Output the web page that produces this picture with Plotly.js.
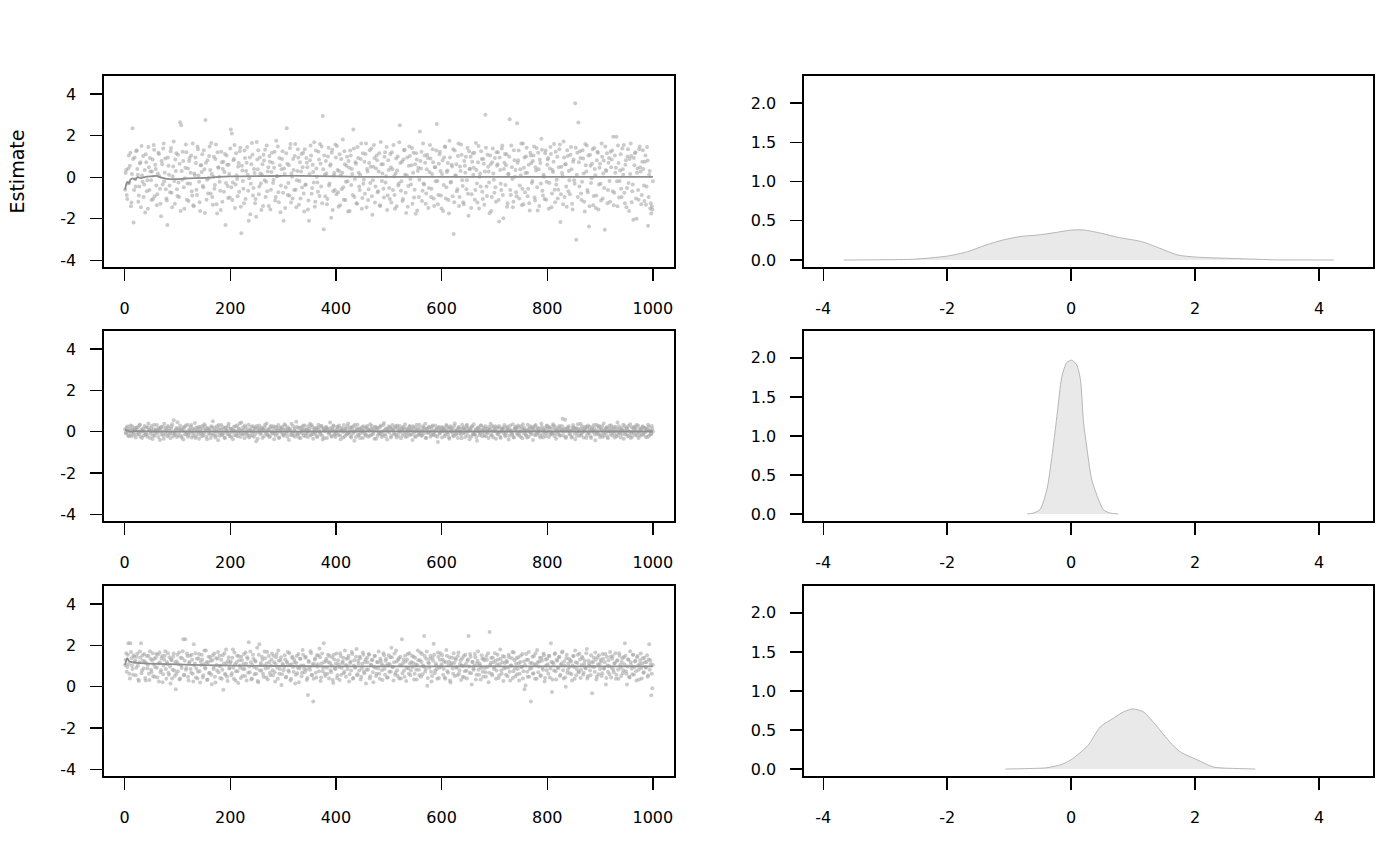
<!DOCTYPE html>
<html>
<head>
<meta charset="utf-8">
<script src="https://cdn.plot.ly/plotly-3.0.1.min.js"></script>
<style>html,body{margin:0;padding:0;background:#fff;}#chart{width:1400px;height:866px;}</style>
</head>
<body>
<div id="chart"></div>
<script>
// ---- Trace values: odd iterations (1,3,...,999) and even iterations (2,4,...,1000) ----
const chainA_odd = [
-0.60,0.35,-1.05,0.42,-0.28,1.18,-1.22,2.35,-2.18,0.95,
-0.45,1.30,0.12,-0.88,0.66,-1.45,0.08,1.02,-0.35,-1.70,
0.72,-0.15,1.45,-0.62,0.28,-1.10,0.85,1.55,-0.92,0.40,
-1.35,0.18,1.12,-0.55,-1.88,0.62,1.38,-0.20,0.90,-1.02,
-2.30,0.55,-0.40,1.25,-0.75,0.05,1.72,-1.28,0.30,-0.58,
1.08,-0.95,2.65,2.50,-0.12,0.78,-1.52,0.45,1.20,-0.30,
-1.15,0.92,0.22,-0.68,1.62,-1.40,0.10,0.68,-0.85,1.35,
-0.22,-1.62,0.58,1.10,-0.48,0.38,2.75,-1.08,0.82,-0.05,
1.48,-0.78,0.15,-1.32,0.98,-0.38,1.58,-1.75,0.48,0.02,
-0.65,1.22,-1.18,0.75,0.25,-2.30,1.05,-0.42,0.60,-0.98,
2.30,2.10,-0.25,0.88,-1.48,1.15,-0.08,0.52,-0.70,1.42,
-2.70,0.32,-0.55,1.28,-1.05,0.70,0.12,-2.10,0.95,-0.32,
1.65,-0.88,0.40,-1.25,-1.90,0.85,1.30,-0.45,0.18,-1.58,
0.62,1.08,-0.15,-0.95,1.52,0.28,-1.38,0.75,-0.60,1.18,
-0.28,0.45,-1.12,1.75,0.05,-0.72,0.92,-1.68,0.38,1.25,
-2.10,0.15,-0.48,2.35,-0.85,0.58,1.40,-1.22,0.02,0.88,
-0.62,1.60,-1.45,0.30,0.95,-0.18,-1.02,1.12,0.48,-0.78,
1.35,-0.35,0.70,-1.55,-2.10,0.82,1.05,-0.52,0.25,1.68,
-1.18,0.42,-0.25,1.22,-0.90,0.65,1.48,2.95,-2.50,0.12,
0.78,-1.30,1.00,-0.40,0.55,-1.95,1.32,-0.68,0.20,1.58,
-0.82,0.35,-1.42,1.10,0.08,-0.58,1.82,-1.08,0.62,-0.22,
0.98,-1.65,0.45,1.28,-0.38,0.15,2.30,-0.95,0.72,-1.25,
1.45,0.22,-0.62,0.88,-1.52,1.15,-0.12,-0.80,1.62,0.40,
-1.10,0.68,-0.28,1.38,-1.80,0.50,0.92,-0.45,1.05,-0.72,
0.28,-1.35,1.70,-0.18,0.62,-0.98,1.20,0.05,-1.58,0.82,
-0.52,1.12,-1.22,0.38,1.55,-0.85,0.18,-1.40,1.00,-0.30,
2.50,-0.65,0.75,-1.05,1.30,0.12,-1.72,0.95,-0.42,1.48,
-0.08,0.58,-1.28,1.18,-0.60,-1.76,0.85,0.30,-0.95,2.20,
0.42,-1.15,1.62,-0.35,0.70,-0.78,1.08,-1.48,0.25,0.90,
-0.55,1.35,-1.02,0.48,-0.20,2.56,-1.30,0.65,1.22,-0.88,
0.15,-1.62,0.95,1.45,-0.48,0.32,-1.10,1.75,-0.25,0.60,
-0.92,-2.73,1.28,0.08,-0.68,1.02,-1.38,0.52,1.58,-0.15,
-1.20,0.78,0.22,-0.58,1.40,-1.85,0.38,0.98,-0.82,1.15,
0.45,-1.08,1.65,-0.30,0.72,-1.50,0.18,1.25,-0.70,0.88,
-1.32,3.00,-0.45,1.08,0.28,-1.73,0.62,-0.95,1.38,-0.12,
0.92,-1.18,0.55,1.20,-2.13,0.35,-0.62,1.52,-1.97,0.70,
-0.38,1.10,-1.25,0.15,2.79,-0.85,0.48,-1.45,1.30,0.02,
-0.72,2.60,0.82,-1.02,0.38,1.62,-0.55,-1.30,0.95,0.20,
1.42,-0.92,0.60,-1.60,1.05,-0.28,0.78,1.48,-1.12,0.32,
-0.48,1.18,-1.38,0.68,1.85,-0.65,0.12,-1.05,1.28,-0.22,
0.85,-1.52,0.42,1.12,-0.78,0.25,1.60,-1.20,-0.35,0.98,
-0.60,1.35,-2.15,0.50,0.05,1.72,-0.95,0.62,-1.42,1.02,
0.30,-0.82,1.45,-1.28,0.75,-0.15,3.56,-3.01,1.18,2.63,
-0.45,0.92,-1.10,1.30,0.18,-1.65,0.58,1.52,-0.72,-2.37,
1.08,-0.28,0.65,-1.35,1.40,0.10,-0.88,1.22,-1.55,0.45,
-0.32,1.62,-1.02,0.80,-2.53,0.35,1.15,-0.62,0.92,-1.18,
0.48,1.28,1.95,-0.75,0.22,1.95,-1.40,0.68,-0.18,1.10,
-0.95,0.38,1.55,-1.25,0.82,-0.52,1.35,-1.62,0.15,1.02,
-0.68,-2.05,0.58,1.20,-2.00,0.42,-1.08,1.48,0.28,-0.85,
1.30,-0.40,0.75,-1.32,1.45,-2.34,0.12,-1.50,-1.75,-1.55
];
const chainA_even = [
0.20,-0.85,-0.30,1.05,0.55,-1.40,0.15,0.88,-0.62,-0.10,
1.25,0.40,-1.18,-0.45,0.72,1.50,-0.22,-0.95,0.35,1.10,
-0.68,-1.52,0.48,0.92,-0.15,0.28,-1.05,1.32,0.60,-0.40,
-0.82,1.18,0.05,-1.28,0.78,-0.35,1.62,0.22,-0.58,-1.12,
0.95,0.12,-0.72,1.40,-1.45,0.52,-0.18,0.85,1.15,-0.90,
-0.25,0.65,-1.62,0.30,1.22,-0.48,-0.05,1.58,-1.08,0.42,
0.78,-0.32,1.05,-0.88,-1.35,0.18,0.95,-0.60,1.48,0.08,
-1.20,0.58,0.25,-0.42,1.30,-1.72,0.70,-0.12,-0.78,1.02,
0.35,1.65,-0.95,0.02,-0.55,0.88,-1.30,1.20,0.45,-0.22,
-1.58,0.72,0.40,-0.70,1.12,-0.28,0.60,-1.00,0.15,1.38,
-0.48,-1.10,0.82,1.55,-0.35,0.10,-0.92,0.68,1.25,-1.42,
0.55,-0.18,-1.25,0.92,0.30,1.45,-0.65,-0.05,-1.78,0.62,
1.08,-0.52,0.20,-1.05,1.70,0.38,-0.82,0.95,-0.30,0.12,
-1.38,0.80,1.32,-0.22,-0.68,0.48,1.02,-1.55,0.25,0.70,
-0.12,1.22,-0.95,0.05,1.48,-1.20,0.58,-0.40,0.88,-0.75,
0.42,-1.48,1.15,0.65,-0.28,-0.88,1.60,0.18,-1.02,0.35,
1.02,-0.60,-0.15,1.35,-1.32,0.72,0.28,-0.50,1.18,-1.65,
-0.38,0.92,0.48,-1.12,0.15,1.52,-0.80,0.60,-0.25,-1.42,
1.28,0.02,-0.70,0.85,1.60,-0.45,-1.25,0.38,1.05,-0.92,
0.18,-1.05,1.42,-0.30,0.62,1.18,-1.58,0.08,-0.62,0.95,
1.50,-0.72,0.30,-1.35,0.88,0.22,-0.48,1.25,-1.10,0.55,
-0.20,0.78,-1.62,1.05,0.40,-0.85,1.38,-0.08,0.65,-1.28,
0.92,-0.45,0.12,1.62,-1.00,-0.32,0.75,1.12,-1.45,0.28,
-0.58,1.30,0.50,-0.92,-0.15,1.55,-1.22,0.42,0.82,-0.68,
1.15,-1.38,0.62,0.18,-0.55,0.98,-0.25,1.45,-0.88,0.35,
-1.05,0.48,1.20,-0.62,0.05,-1.52,0.90,0.32,-0.40,1.68,
0.68,-0.20,-1.15,0.85,1.32,-0.75,0.10,-1.42,0.55,1.02,
-0.35,1.40,0.22,-0.98,0.62,1.15,-1.60,0.45,-0.12,0.78,
1.22,-0.65,-0.30,1.05,-1.28,0.38,0.92,-0.52,1.55,-0.95,
0.15,0.72,-1.38,0.48,1.28,-0.18,-0.85,1.10,0.30,-1.50,
0.82,-0.38,1.48,-1.02,0.25,0.68,-1.75,0.95,-0.22,0.52,
1.35,-1.20,0.08,0.62,-0.58,1.62,-0.95,0.30,1.08,-0.42,
-1.30,0.55,0.98,-0.15,-0.80,1.25,0.42,-1.48,0.75,0.12,
1.18,-0.62,0.35,-1.22,1.50,0.02,-0.45,0.88,-1.05,0.65,
0.28,1.42,-0.90,0.50,-0.25,1.05,-1.62,0.72,0.18,-0.75,
-0.48,1.20,0.62,-1.10,0.95,-0.32,1.38,-0.85,0.40,1.12,
0.58,-1.42,0.15,0.98,-0.62,1.52,-0.08,-1.18,0.82,0.35,
-0.92,0.70,1.28,-0.40,0.10,-1.35,1.62,0.45,-0.72,1.00,
0.22,-0.55,-1.25,1.18,0.68,-0.18,1.05,-0.98,0.48,1.40,
-1.60,0.38,0.85,-0.30,1.32,-0.88,0.02,1.15,-1.08,0.60,
0.92,-0.28,1.45,-1.45,0.35,0.75,-0.60,1.22,-0.12,-1.02,
0.48,1.58,-0.82,0.20,-1.30,0.95,0.62,-0.45,1.30,-0.68,
-0.15,1.08,0.38,-1.55,0.85,-0.32,1.42,0.12,-0.95,0.72,
1.25,-0.78,-0.22,0.90,-1.18,1.60,0.28,-0.62,1.05,-1.40,
0.55,-0.05,1.35,-0.90,0.40,-1.48,0.82,1.18,-0.35,0.65,
-1.12,0.98,0.18,-0.52,1.48,0.30,-1.25,0.70,-0.18,1.22,
0.85,-0.68,-1.35,1.05,0.45,-0.20,1.52,-0.98,0.32,-0.55,
1.38,0.12,-0.75,0.60,-1.45,1.00,-0.28,0.88,1.62,-1.20,
-0.35,0.92,1.15,-1.02,0.22,-0.62,1.35,0.48,-1.30,0.75,
0.40,-1.15,1.05,-0.45,0.80,-0.95,0.30,-1.25,-1.40,-0.20
];
const chainB_odd = [
0.12,-0.08,0.25,-0.18,0.05,0.30,-0.22,0.10,-0.05,0.18,
-0.28,0.08,0.22,-0.12,0.35,-0.02,-0.30,0.15,0.02,-0.15,
0.20,-0.25,0.40,0.06,-0.10,0.28,-0.35,0.12,-0.20,0.04,
0.32,-0.06,0.15,-0.40,0.24,0.00,-0.18,0.38,-0.12,0.09,
-0.22,0.18,0.05,-0.32,0.26,-0.08,0.55,-0.15,0.10,-0.26,
0.14,-0.04,0.30,-0.20,0.08,-0.38,0.22,0.02,-0.12,0.34,
-0.16,0.06,0.24,-0.28,0.16,-0.06,0.42,-0.22,0.00,0.20,
-0.34,0.12,-0.08,0.28,-0.18,0.36,0.04,-0.24,0.18,-0.10,
0.08,-0.30,0.22,0.50,-0.14,0.02,-0.20,0.26,-0.42,0.14,
-0.06,0.32,-0.16,0.10,-0.28,0.20,0.06,-0.12,0.38,-0.22,
0.16,-0.02,-0.36,0.24,0.04,-0.18,0.30,-0.08,0.12,-0.26,
0.44,-0.14,0.08,-0.32,0.20,0.02,-0.10,0.34,-0.20,0.06,
-0.04,0.26,-0.24,0.14,-0.46,0.18,0.00,0.30,-0.12,0.10,
-0.30,0.08,0.22,-0.06,0.40,-0.16,0.12,-0.22,0.28,-0.02,
0.18,-0.36,0.04,0.24,-0.10,0.32,-0.28,0.06,0.16,-0.14,
-0.20,0.36,0.10,-0.08,0.22,-0.40,0.14,0.02,-0.16,0.28,
0.06,-0.24,0.48,-0.12,0.18,-0.04,-0.32,0.20,0.08,-0.18,
0.30,-0.10,0.12,-0.26,0.04,0.38,-0.14,0.24,-0.34,0.10,
-0.08,0.16,-0.22,0.34,0.00,-0.12,0.26,-0.38,0.14,0.04,
0.22,-0.30,0.08,-0.04,0.44,-0.20,0.12,0.30,-0.10,-0.26,
0.10,0.24,-0.16,0.06,-0.36,0.18,-0.02,0.32,-0.22,0.14,
-0.12,0.40,-0.06,0.20,-0.28,0.08,0.26,-0.44,0.02,0.16,
0.34,-0.18,0.10,-0.08,0.22,-0.30,0.04,0.18,-0.14,0.28,
-0.24,0.06,0.36,-0.16,0.12,-0.02,-0.34,0.24,0.08,-0.20,
0.18,-0.10,0.30,-0.26,0.02,0.42,-0.12,0.14,-0.38,0.06,
-0.04,0.22,-0.20,0.32,0.10,-0.14,0.26,-0.28,0.16,0.00,
0.28,-0.32,0.06,0.18,-0.10,0.36,-0.06,-0.22,0.12,0.24,
-0.16,0.08,-0.40,0.20,0.04,-0.26,0.34,0.10,-0.12,0.18,
0.02,-0.18,0.26,-0.08,0.38,-0.30,0.14,-0.02,0.22,-0.24,
0.12,0.30,-0.14,0.04,-0.20,0.16,-0.50,0.24,-0.06,0.10,
-0.28,0.20,0.08,-0.12,0.32,-0.04,0.14,-0.34,0.26,0.02,
0.16,-0.22,0.40,-0.10,0.06,-0.30,0.22,0.12,-0.16,0.34,
-0.06,0.10,-0.26,0.28,-0.02,0.18,-0.36,0.08,0.24,-0.14,
0.36,-0.12,0.04,-0.44,0.20,0.12,-0.08,0.30,-0.22,0.06,
-0.18,0.26,-0.04,0.14,-0.30,0.08,0.38,-0.16,0.02,0.22,
0.10,-0.34,0.18,-0.10,0.28,-0.24,0.04,0.16,-0.06,0.32,
-0.22,0.06,0.24,-0.38,0.12,0.00,-0.14,0.36,-0.28,0.14,
0.20,-0.08,0.30,-0.18,-0.02,0.26,-0.32,0.10,0.18,-0.12,
0.04,0.34,-0.24,0.16,-0.06,0.22,-0.40,0.08,0.28,-0.16,
-0.10,0.18,0.06,-0.28,0.40,-0.14,0.12,-0.02,-0.22,0.30,
0.14,-0.26,0.20,0.02,-0.12,0.36,-0.08,0.24,-0.34,0.10,
-0.02,0.28,-0.18,0.08,0.62,-0.20,0.16,-0.30,0.04,0.22,
0.26,-0.14,0.06,-0.24,0.32,0.10,-0.36,0.18,-0.04,0.12,
-0.20,0.38,-0.10,0.14,-0.28,0.04,0.24,-0.16,0.30,-0.06,
0.08,-0.30,0.22,-0.02,0.16,-0.42,0.34,0.00,-0.12,0.26,
-0.16,0.12,-0.26,0.40,0.06,-0.08,0.20,-0.32,0.14,0.02,
0.30,-0.18,0.08,-0.10,0.24,-0.22,0.44,-0.04,0.12,-0.28,
0.18,0.04,-0.34,0.26,-0.12,0.14,0.06,-0.20,0.36,-0.08,
-0.24,0.22,0.10,-0.16,0.32,-0.02,-0.30,0.16,0.08,-0.14,
0.26,-0.06,0.18,-0.26,0.12,0.34,-0.18,0.04,-0.10,0.14
];
const chainB_even = [
-0.05,0.18,0.02,-0.22,0.14,-0.10,0.26,0.06,-0.16,0.08,
0.20,-0.12,-0.02,0.30,-0.24,0.10,0.04,-0.18,0.28,-0.06,
-0.14,0.22,0.08,-0.30,0.16,0.00,-0.20,0.34,-0.08,0.12,
0.04,-0.26,0.18,0.10,-0.12,0.24,-0.34,0.06,0.20,-0.02,
0.28,-0.16,-0.06,0.14,0.36,-0.22,0.02,-0.10,0.18,0.46,
-0.20,0.08,0.16,-0.28,0.04,0.22,-0.14,0.30,-0.04,-0.24,
0.12,-0.06,0.32,0.02,-0.18,0.10,-0.30,0.20,0.06,-0.12,
0.24,0.00,-0.22,0.16,-0.08,0.28,0.10,-0.36,0.14,0.04,
-0.10,0.26,-0.16,0.06,0.20,-0.28,0.12,-0.02,0.32,-0.20,
0.08,-0.14,0.22,-0.06,-0.32,0.18,0.02,0.28,-0.12,0.14,
-0.26,0.10,0.04,-0.16,0.26,0.00,-0.22,0.16,0.40,-0.08,
0.06,0.22,-0.12,0.30,-0.04,-0.20,0.12,-0.28,0.08,0.24,
-0.18,0.02,0.18,-0.10,0.28,-0.34,0.06,0.14,-0.06,0.20,
0.12,-0.22,0.34,0.04,-0.14,0.10,-0.26,0.22,0.00,-0.10,
0.26,-0.08,-0.18,0.16,0.06,-0.30,0.18,-0.02,0.24,0.10,
-0.12,0.30,0.02,-0.24,0.14,0.08,-0.16,0.38,-0.06,-0.20,
0.16,-0.02,0.24,-0.14,-0.28,0.20,0.04,-0.08,0.30,0.12,
-0.22,0.08,-0.06,0.26,0.14,-0.18,0.32,0.00,-0.12,0.18,
0.04,-0.26,0.20,0.10,-0.04,0.28,-0.20,0.12,-0.30,0.06,
0.22,0.14,-0.10,-0.02,0.18,-0.24,0.08,0.26,-0.16,0.02,
-0.08,0.20,0.30,-0.18,0.06,0.12,-0.28,0.04,0.16,-0.12,
0.28,-0.04,0.10,-0.22,0.22,-0.10,0.00,0.34,-0.26,0.08,
-0.14,0.16,-0.30,0.12,0.02,0.26,-0.08,-0.18,0.20,0.10,
0.06,-0.20,0.14,0.28,-0.12,0.04,0.22,-0.34,0.18,-0.02,
-0.10,0.24,0.00,-0.16,0.32,0.08,-0.22,0.14,0.02,0.26,
0.18,-0.28,0.12,0.06,-0.06,0.20,-0.14,0.30,-0.20,0.10,
-0.02,0.14,-0.18,0.24,0.08,-0.26,0.16,0.04,-0.10,0.28,
0.10,-0.12,0.26,-0.04,-0.22,0.18,0.02,-0.16,0.34,-0.08,
-0.20,0.06,0.20,0.12,-0.30,0.14,-0.06,0.24,0.00,-0.14,
0.24,-0.16,-0.02,0.30,0.10,-0.24,0.18,-0.10,0.06,0.22,
0.02,0.16,-0.22,0.08,0.26,-0.12,-0.28,0.20,0.12,-0.04,
-0.18,0.28,0.04,-0.14,0.10,0.22,-0.08,0.00,-0.32,0.16,
0.20,-0.06,0.14,0.34,-0.20,0.06,0.12,-0.24,0.26,-0.10,
-0.12,0.10,-0.26,0.18,0.02,-0.16,0.30,0.08,-0.04,0.20,
0.14,-0.22,0.06,-0.08,0.24,0.12,-0.18,0.28,-0.28,0.04,
0.26,0.00,-0.12,0.20,-0.02,-0.30,0.16,0.10,0.22,-0.16,
-0.06,0.18,0.08,-0.20,0.30,0.04,-0.10,-0.26,0.14,0.24,
0.10,-0.14,0.22,0.02,-0.24,0.16,0.36,-0.08,0.06,-0.18,
-0.28,0.12,0.00,0.26,-0.12,0.08,0.20,-0.16,0.32,0.02,
0.16,-0.04,-0.20,0.12,0.24,-0.28,0.06,0.18,-0.10,0.28,
0.00,0.22,-0.14,-0.06,0.16,0.30,-0.22,0.10,0.04,-0.12,
0.20,-0.18,0.12,0.28,-0.02,0.10,0.58,-0.24,0.14,0.06,
-0.10,0.04,-0.28,0.18,0.22,-0.08,0.14,-0.20,0.36,0.02,
0.12,-0.16,0.26,-0.02,0.08,0.20,-0.30,0.16,-0.06,0.24,
-0.22,0.10,0.04,0.32,-0.14,0.06,-0.10,0.28,0.18,-0.26,
0.08,0.26,-0.06,-0.18,0.12,0.20,-0.24,0.02,0.30,-0.12,
0.16,-0.02,0.22,-0.28,0.04,0.14,-0.16,0.26,-0.08,0.10,
-0.14,0.34,0.06,-0.10,0.18,-0.22,0.28,0.00,-0.30,0.20,
0.02,-0.08,0.24,0.14,-0.18,0.30,-0.04,-0.20,0.12,0.22,
-0.16,0.18,-0.02,0.10,-0.26,0.24,0.06,-0.12,0.28,0.00
];
const chainC_odd = [
1.05,1.62,0.95,2.10,0.62,2.10,1.38,0.85,1.52,1.20,
0.55,1.45,1.02,0.28,1.70,2.10,0.78,1.25,1.58,0.42,
1.15,0.88,1.50,0.32,1.35,0.70,1.62,1.08,0.48,1.40,
0.92,1.55,0.25,1.18,0.80,1.48,0.60,1.30,1.72,0.38,
1.10,0.68,1.42,0.15,1.28,0.82,1.60,0.52,-0.12,1.22,
0.75,1.65,0.40,1.02,1.38,2.30,0.58,2.30,0.90,1.48,
0.30,1.20,0.85,1.55,0.62,2.05,1.12,0.45,1.35,0.72,
1.58,0.20,1.05,1.32,0.55,1.75,0.88,1.18,0.35,1.45,
0.68,1.25,0.12,1.52,0.95,0.48,1.38,0.78,1.68,1.00,
0.42,1.30,0.82,-0.15,1.62,0.58,1.15,0.28,1.42,0.90,
1.22,0.65,1.80,0.38,1.08,0.75,1.50,0.18,1.28,0.92,
1.45,0.52,1.10,0.85,1.65,0.30,1.35,2.15,0.70,1.18,
0.40,1.55,0.95,1.25,0.62,1.88,0.22,2.05,1.05,0.78,
1.32,0.48,1.70,0.88,1.12,0.35,1.48,0.68,1.02,1.60,
0.55,1.18,0.25,1.42,0.92,1.75,0.62,1.28,0.08,1.10,
0.80,1.52,0.45,1.22,1.68,0.72,1.05,0.38,1.40,0.95,
1.30,0.15,1.15,0.65,1.58,0.88,1.35,0.50,1.78,1.02,
0.70,1.45,0.32,-0.40,1.20,0.82,1.62,0.58,-0.72,1.08,
1.38,0.45,0.98,1.52,1.85,0.28,1.12,0.75,2.10,0.62,
1.25,0.92,1.55,0.40,1.15,0.70,1.42,0.18,1.32,0.85,
1.60,0.55,1.08,0.32,1.48,0.90,1.22,0.65,1.75,0.48,
1.02,1.38,0.25,1.15,0.78,1.58,0.42,1.28,0.95,1.82,
0.60,1.12,1.45,0.35,0.88,1.65,0.72,1.20,0.15,1.40,
0.82,1.55,0.50,1.05,1.30,0.22,1.48,0.92,0.62,1.18,
1.70,0.38,1.25,0.80,1.02,1.52,0.58,1.35,0.45,1.10,
0.72,1.42,1.88,0.95,0.30,1.60,0.68,1.22,0.52,1.38,
1.05,0.40,2.30,1.15,0.78,1.50,0.28,1.32,0.88,1.62,
0.55,1.20,0.95,1.45,0.62,1.08,0.35,1.75,0.82,1.28,
0.48,1.58,1.02,2.45,0.72,1.35,0.05,1.18,0.92,1.50,
0.25,1.40,2.08,0.65,1.12,0.85,1.65,0.42,1.30,0.98,
1.52,0.58,1.22,0.38,1.78,0.75,1.05,1.42,0.20,1.15,
0.88,1.62,0.52,1.30,0.95,1.48,0.62,1.10,0.32,1.38,
1.00,0.45,1.55,0.78,1.25,2.45,0.68,1.45,0.10,1.20,
0.82,1.58,0.35,1.12,1.72,0.58,1.02,0.90,1.35,0.48,
1.28,0.70,1.48,0.95,0.22,2.65,1.15,0.62,1.40,0.85,
1.62,0.38,1.08,1.32,0.55,1.80,0.78,1.18,0.28,1.45,
0.92,1.25,0.50,1.55,0.72,1.02,1.38,0.42,1.65,0.88,
1.12,0.60,1.42,0.30,1.20,0.95,1.58,0.75,-0.12,0.06,
1.30,0.48,1.68,0.85,-0.72,1.15,0.62,1.48,0.38,1.05,
1.78,0.70,1.22,0.52,1.40,0.92,1.60,0.25,1.32,0.80,
1.08,1.50,0.45,2.10,-0.26,1.18,0.78,1.62,0.35,1.25,
0.90,1.45,0.58,1.12,1.70,0.40,1.02,0.00,1.55,0.82,
1.35,0.65,1.22,0.30,1.48,0.95,1.75,0.55,1.15,0.72,
1.60,0.42,1.05,1.38,0.68,1.25,0.88,1.82,0.50,1.10,
0.78,1.52,-0.32,1.20,0.95,1.65,0.35,1.42,0.60,1.08,
1.30,0.52,1.58,0.88,1.18,0.10,1.45,0.72,1.00,1.68,
0.45,1.35,0.82,1.12,1.62,0.58,1.28,0.38,1.50,0.92,
1.20,0.65,1.42,2.10,0.75,0.10,1.32,0.48,1.72,1.05,
0.60,1.55,0.95,1.25,0.30,1.48,0.82,1.10,1.60,0.40,
1.38,0.70,1.18,0.92,1.52,0.55,2.05,1.28,-0.42,-0.08
];
const chainC_even = [
1.30,0.72,1.55,1.10,0.40,1.68,1.02,0.58,1.45,1.25,
0.92,1.60,0.35,1.18,1.40,0.65,1.52,0.88,1.22,0.30,
1.48,1.05,0.62,1.72,0.82,1.28,0.50,1.35,0.95,1.58,
0.45,1.12,1.65,0.70,1.38,0.22,1.02,1.50,0.85,1.20,
1.62,0.58,0.98,1.32,0.40,1.45,0.78,1.18,0.62,1.55,
1.08,0.35,1.40,0.90,1.72,0.55,1.25,0.82,1.60,0.48,
1.15,1.50,0.68,1.30,0.25,1.02,1.62,0.88,0.40,1.38,
0.75,1.22,1.55,0.45,1.08,0.92,1.75,0.32,1.18,0.65,
1.42,0.58,1.28,0.85,1.60,0.20,1.05,1.35,0.70,1.50,
1.00,0.38,1.52,1.12,0.62,1.80,0.48,1.25,0.88,1.15,
0.55,1.40,0.92,1.65,0.30,1.18,0.75,1.48,1.02,0.42,
1.28,0.85,1.58,0.52,1.12,1.42,0.68,0.98,1.70,0.35,
1.05,1.35,0.60,1.22,0.88,0.28,1.55,0.78,1.15,1.45,
0.62,1.02,1.38,0.45,1.68,0.92,1.20,0.55,1.32,0.80,
1.50,0.70,1.10,1.58,0.38,1.25,0.85,1.42,0.60,1.05,
0.95,1.32,0.48,1.15,0.78,1.62,0.30,1.08,1.45,0.72,
1.18,0.58,1.48,0.92,0.22,1.35,1.02,0.68,1.55,0.85,
1.40,0.82,0.42,1.25,0.95,1.72,0.55,1.10,0.38,1.30,
0.68,1.52,1.08,0.75,1.42,0.45,1.60,0.92,1.20,0.52,
1.35,0.62,1.18,1.48,0.80,1.02,0.32,1.55,0.88,1.12,
0.42,1.28,0.95,1.62,0.58,1.15,1.40,0.72,1.05,1.35,
0.85,1.50,0.60,1.22,1.68,0.38,1.02,0.92,1.45,0.55,
1.25,0.78,1.38,0.48,1.10,1.55,0.65,1.32,0.82,1.18,
1.58,0.40,1.05,1.28,0.70,0.95,1.48,0.52,1.20,0.88,
0.62,1.35,1.12,0.32,1.62,0.85,1.25,1.02,0.45,1.52,
1.08,0.72,1.42,0.95,1.18,0.58,1.75,0.80,1.30,0.40,
1.45,1.02,0.65,1.32,0.48,1.22,0.90,1.58,0.62,1.12,
0.78,1.50,1.15,0.35,1.40,0.82,1.05,1.28,0.55,1.65,
1.20,0.60,0.98,1.48,0.85,1.70,0.42,1.12,1.35,0.72,
0.52,1.25,1.55,0.78,1.02,0.38,1.45,0.92,1.62,1.08,
1.32,0.85,0.45,1.18,1.50,0.68,1.22,0.30,1.05,1.40,
0.62,1.15,1.38,0.92,0.55,1.65,0.80,1.28,1.02,0.48,
1.48,0.75,1.10,0.40,1.32,0.98,1.58,0.65,1.20,0.88,
1.02,1.42,0.58,1.25,0.82,1.12,0.35,1.52,0.72,1.35,
0.90,0.48,1.30,1.62,0.68,1.05,1.40,0.55,1.18,0.95,
1.25,0.78,1.55,0.42,1.08,1.35,0.62,1.48,0.88,1.15,
0.58,1.20,0.92,1.42,0.30,1.02,1.68,0.75,1.28,0.50,
1.38,0.85,1.12,0.62,1.50,0.95,0.40,1.22,1.05,1.58,
0.72,1.30,0.48,1.15,0.90,1.45,0.65,1.08,1.62,0.38,
1.18,0.98,1.40,0.55,1.25,0.82,1.52,0.42,1.02,1.35,
0.62,1.48,0.88,1.20,0.35,1.10,1.58,0.75,1.30,0.92,
1.42,0.52,1.05,1.65,0.80,1.22,0.45,1.38,0.68,1.12,
0.95,1.28,0.60,1.02,1.48,0.38,1.18,0.85,1.55,0.70,
1.32,0.82,1.45,0.58,1.10,0.92,1.62,0.40,1.25,1.00,
0.55,1.18,0.98,1.40,0.72,1.30,0.48,1.08,1.52,0.85,
1.22,0.65,1.35,0.88,1.58,0.42,1.02,1.28,0.60,1.45,
0.92,1.48,0.70,1.15,0.38,1.25,0.82,1.62,1.05,0.52,
1.38,0.80,1.08,1.50,0.62,0.98,1.32,0.45,1.18,0.88,
1.55,0.58,1.22,0.75,1.42,1.02,0.35,1.28,0.90,1.12,
0.68,1.40,0.95,1.20,0.48,1.32,0.82,1.10,0.62,1.05
];

// ---- Running means ----
const meanIterA = [1,3,5,8,11,15,20,25,30,40,50,60,70,80,100,120,150,200,300,330,400,450,500,600,700,800,900,1000];
const meanValA  = [-0.60,-0.35,-0.22,-0.28,-0.12,-0.06,-0.10,0.00,-0.04,0.02,0.04,0.06,-0.02,-0.08,-0.09,-0.06,-0.03,0.04,0.06,0.06,0.04,0.02,0.02,0.02,0.02,0.02,0.02,0.02];
const meanIterB = [1,5,10,20,50,100,200,400,600,800,1000];
const meanValB  = [0.10,0.05,0.00,0.02,0.01,0.00,0.00,0.01,0.01,0.01,0.01];
const meanIterC = [1,3,5,8,12,20,30,45,60,100,150,200,300,400,500,600,800,1000];
const meanValC  = [1.05,1.25,1.38,1.25,1.20,1.16,1.14,1.12,1.10,1.08,1.04,1.02,1.00,0.98,0.98,0.98,0.98,0.98];

// ---- Posterior densities (read from the right column) ----
const densXA = [-3.67,-3.0,-2.54,-2.0,-1.67,-1.38,-1.10,-0.81,-0.52,-0.23,-0.01,0.20,0.49,0.78,1.14,1.43,1.72,2.00,2.36,2.87,3.30,3.80,4.24];
const densYA = [0.000,0.004,0.010,0.050,0.106,0.190,0.255,0.300,0.320,0.353,0.380,0.383,0.340,0.285,0.234,0.150,0.064,0.038,0.026,0.013,0.002,0.001,0.000];
const densXB = [-0.71,-0.60,-0.50,-0.39,-0.31,-0.23,-0.15,-0.07,0.01,0.09,0.15,0.20,0.25,0.33,0.44,0.52,0.62,0.76];
const densYB = [0.000,0.015,0.060,0.320,0.740,1.250,1.760,1.940,1.970,1.910,1.720,1.170,0.870,0.450,0.190,0.055,0.015,0.000];
const densXC = [-1.06,-0.70,-0.39,-0.15,0.00,0.27,0.47,0.68,0.84,1.00,1.17,1.38,1.60,1.76,2.03,2.30,2.56,2.97];
const densYC = [0.000,0.006,0.017,0.060,0.120,0.300,0.540,0.650,0.730,0.770,0.730,0.550,0.340,0.220,0.120,0.025,0.010,0.000];

const traceTicks = [0,200,400,600,800,1000];
const estTicks = [-4,-2,0,2,4];
const estTickText = ["-4","-2","0","2","4"];
const densTicks = [0,0.5,1,1.5,2];
const densTickText = ["0.0","0.5","1.0","1.5","2.0"];
const yLabel = "Estimate";

const chains = [[chainA_odd, chainA_even],[chainB_odd, chainB_even],[chainC_odd, chainC_even]];
const means = [[meanIterA, meanValA],[meanIterB, meanValB],[meanIterC, meanValC]];
const dens = [[densXA, densYA],[densXB, densYB],[densXC, densYC]];

const FONT = "DejaVu Sans, sans-serif";
const W = 1400, H = 866;
const leftDom = [104/W, 674/W];
const rightDom = [804/W, 1373/W];
const rows = [[76,267],[331,521],[586,776]];

const data = [];
const layout = {
  width: W, height: H,
  margin: {l:0, r:0, t:0, b:0},
  paper_bgcolor: "#fff", plot_bgcolor: "#fff",
  showlegend: false,
  font: {family: FONT, size: 16, color: "#000"},
  annotations: [{
    text: yLabel, xref: "paper", yref: "paper",
    x: 16.5/W, y: 1 - 172/H, showarrow: false, textangle: -90,
    font: {family: FONT, size: 19, color: "#000"}, xanchor: "center", yanchor: "middle"
  }]
};

function axisBase() {
  return {
    showline: true, mirror: true, linecolor: "#000", linewidth: 1.6,
    ticks: "outside", ticklen: 12, tickwidth: 1.4, tickcolor: "#000",
    showgrid: false, zeroline: false, fixedrange: true,
    tickfont: {family: FONT, size: 16, color: "#000"}
  };
}

chains.forEach((pair, r) => {
  const xl = "x" + (2*r+1), yl = "y" + (2*r+1);
  const xr = "x" + (2*r+2), yr = "y" + (2*r+2);
  const iters = [], vals = [];
  pair[0].forEach((v, i) => { iters.push(2*i + 1); vals.push(v); iters.push(2*i + 2); vals.push(pair[1][i]); });
  data.push({
    type: "scatter", mode: "markers", x: iters, y: vals, xaxis: xl, yaxis: yl,
    marker: {size: 4, color: "rgba(165,165,165,0.58)", line: {width: 0}}, hoverinfo: "skip"
  });
  data.push({
    type: "scatter", mode: "lines", x: means[r][0], y: means[r][1], xaxis: xl, yaxis: yl,
    line: {color: "#8e8e8e", width: 1.8, shape: "spline", smoothing: 0.6}, hoverinfo: "skip"
  });
  data.push({
    type: "scatter", mode: "lines", x: dens[r][0], y: dens[r][1], xaxis: xr, yaxis: yr,
    fill: "tozeroy", fillcolor: "#e9e9e9",
    line: {color: "#a6a6a6", width: 0.8, shape: "spline", smoothing: 0.7}, hoverinfo: "skip"
  });
  const yDom = [1 - rows[r][1]/H, 1 - rows[r][0]/H];
  const ax1 = Object.assign(axisBase(), {domain: leftDom, anchor: yl, range: [-39, 1040], tickvals: traceTicks, ticklabelstandoff: 14});
  const ay1 = Object.assign(axisBase(), {domain: yDom, anchor: xl, range: [-4.32, 4.87], tickvals: estTicks, ticktext: estTickText, ticklabelstandoff: 11});
  const ax2 = Object.assign(axisBase(), {domain: rightDom, anchor: yr, range: [-4.31, 4.87], tickvals: estTicks, ticktext: estTickText, ticklabelstandoff: 14});
  const ay2 = Object.assign(axisBase(), {domain: yDom, anchor: xr, range: [-0.089, 2.344], tickvals: densTicks, ticktext: densTickText, ticklabelstandoff: 11});
  const ix1 = 2*r+1, ix2 = 2*r+2;
  layout["xaxis" + (ix1 === 1 ? "" : ix1)] = ax1;
  layout["yaxis" + (ix1 === 1 ? "" : ix1)] = ay1;
  layout["xaxis" + ix2] = ax2;
  layout["yaxis" + ix2] = ay2;
});

Plotly.newPlot("chart", data, layout, {staticPlot: true, displayModeBar: false});
</script>
</body>
</html>
